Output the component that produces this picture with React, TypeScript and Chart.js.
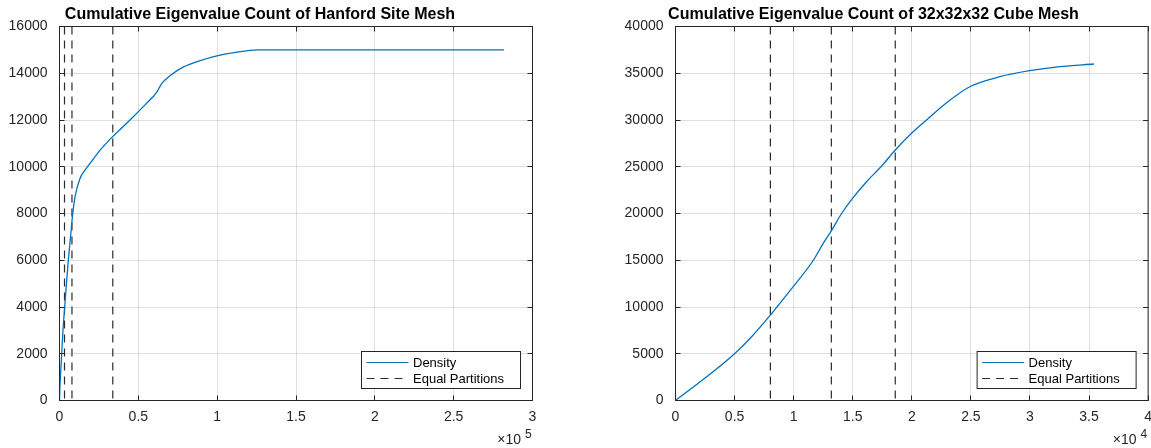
import React, { useEffect, useRef } from "react";
import { Chart, registerables } from "chart.js";

Chart.register(...registerables);

const FONT = '"Liberation Sans", Arial, Helvetica, sans-serif';
const BLUE = "#0072BD";
const AXIS = "#262626";
const GRID = "rgba(38,38,38,0.15)";
const DASH_COLOR = "#2b2b2b";

// ---------- Left panel: Hanford Site Mesh ----------
const hanfordTitle = "Cumulative Eigenvalue Count of Hanford Site Mesh";
const hanfordX = [0, 150, 700, 1400, 2200, 3300, 4400, 5600, 7000, 8400, 9850, 13000, 16200, 20000, 25000, 33900, 44700, 55000, 61650, 64820, 70200, 78650, 89260, 99870, 112580, 125290, 200000, 282000];
const hanfordY = [0, 400, 1150, 2000, 3000, 4000, 5000, 6000, 7000, 8000, 8714, 9500, 9857, 10200, 10650, 11300, 12000, 12700, 13180, 13560, 13900, 14270, 14543, 14743, 14900, 15000, 15000, 15000];
const hanfordPartitions = [3170, 7900, 33800];
const hanfordXTicks = [0, 50000, 100000, 150000, 200000, 250000, 300000];
const hanfordXLabels = ["0", "0.5", "1", "1.5", "2", "2.5", "3"];
const hanfordYTicks = [0, 2000, 4000, 6000, 8000, 10000, 12000, 14000, 16000];
const hanfordYLabels = ["0", "2000", "4000", "6000", "8000", "10000", "12000", "14000", "16000"];
const hanfordExponent = "5";

// ---------- Right panel: 32x32x32 Cube Mesh ----------
const cubeTitle = "Cumulative Eigenvalue Count of 32x32x32 Cube Mesh";
const cubeX = [0, 2500, 5000, 6500, 8034, 8584, 9963, 11670, 12500, 13192, 14055, 15000, 16170, 17430, 18605, 20000, 21244, 23000, 24905, 27443, 29980, 32517, 35418];
const cubeY = [0, 2400, 5000, 6900, 9144, 10000, 12171, 15000, 16800, 18150, 20000, 21650, 23400, 25050, 26791, 28600, 30000, 31900, 33560, 34630, 35272, 35700, 35989];
const cubePartitions = [8030, 13190, 18600];
const cubeXTicks = [0, 5000, 10000, 15000, 20000, 25000, 30000, 35000, 40000];
const cubeXLabels = ["0", "0.5", "1", "1.5", "2", "2.5", "3", "3.5", "4"];
const cubeYTicks = [0, 5000, 10000, 15000, 20000, 25000, 30000, 35000, 40000];
const cubeYLabels = ["0", "5000", "10000", "15000", "20000", "25000", "30000", "35000", "40000"];
const cubeExponent = "4";

const legendLabels = ["Density", "Equal Partitions"];

type Panel = {
  title: string;
  titleX: number; // page coordinate of title centre
  xs: number[];
  ys: number[];
  parts: number[];
  xTicks: number[];
  xLabels: string[];
  yTicks: number[];
  yLabels: string[];
  exponent: string;
  canvasLeft: number;
  canvasWidth: number;
  axisLeft: number;
  axisRight: number;
};

const AREA_TOP = 26.5;
const AREA_BOTTOM = 400.5;
const HEIGHT = 448;

const panels: Panel[] = [
  {
    title: hanfordTitle,
    titleX: 260,
    xs: hanfordX,
    ys: hanfordY,
    parts: hanfordPartitions,
    xTicks: hanfordXTicks,
    xLabels: hanfordXLabels,
    yTicks: hanfordYTicks,
    yLabels: hanfordYLabels,
    exponent: hanfordExponent,
    canvasLeft: 0,
    canvasWidth: 576,
    axisLeft: 59.5,
    axisRight: 532.5,
  },
  {
    title: cubeTitle,
    titleX: 873.5,
    xs: cubeX,
    ys: cubeY,
    parts: cubePartitions,
    xTicks: cubeXTicks,
    xLabels: cubeXLabels,
    yTicks: cubeYTicks,
    yLabels: cubeYLabels,
    exponent: cubeExponent,
    canvasLeft: 576,
    canvasWidth: 584,
    axisLeft: 675.5,
    axisRight: 1148.5,
  },
];

function buildChart(canvas: HTMLCanvasElement, p: Panel): Chart {
  const xMin = p.xTicks[0];
  const xMax = p.xTicks[p.xTicks.length - 1];
  const yMin = p.yTicks[0];
  const yMax = p.yTicks[p.yTicks.length - 1];

  const density = p.xs.map((x, i) => ({ x, y: p.ys[i] }));
  const partitionSets = p.parts.map((x) => ({
    label: legendLabels[1],
    data: [
      { x, y: yMax },
      { x, y: yMin },
    ],
    borderColor: DASH_COLOR,
    borderWidth: 1.2,
    borderDash: [8, 6],
    pointRadius: 0,
    tension: 0,
    fill: false,
  }));

  const matlabPlugin = {
    id: "matlabDecor",
    afterDatasetsDraw(chart: any) {
      const { ctx, chartArea, scales } = chart;
      const { left, right, top, bottom } = chartArea;
      ctx.save();
      ctx.strokeStyle = AXIS;
      ctx.lineWidth = 1;
      ctx.setLineDash([]);
      const TL = 5;
      ctx.beginPath();
      p.xTicks.forEach((v) => {
        const px = Math.floor(scales.x.getPixelForValue(v)) + 0.5;
        ctx.moveTo(px, bottom);
        ctx.lineTo(px, bottom - TL);
        ctx.moveTo(px, top);
        ctx.lineTo(px, top + TL);
      });
      p.yTicks.forEach((v) => {
        const py = Math.floor(scales.y.getPixelForValue(v)) + 0.5;
        ctx.moveTo(left, py);
        ctx.lineTo(left + TL, py);
        ctx.moveTo(right, py);
        ctx.lineTo(right - TL, py);
      });
      ctx.stroke();
      ctx.strokeRect(left, top, right - left, bottom - top);
      ctx.restore();
    },
    afterDraw(chart: any) {
      const { ctx, chartArea } = chart;
      const { right } = chartArea;
      ctx.save();
      // legend
      const lw = 159;
      const lh = 37;
      const lr = right - 12;
      const ll = lr - lw;
      const lt = 351.5;
      ctx.fillStyle = "#ffffff";
      ctx.fillRect(ll, lt, lw, lh);
      ctx.strokeStyle = AXIS;
      ctx.lineWidth = 1;
      ctx.strokeRect(ll, lt, lw, lh);

      const row1 = lt + 11;
      const row2 = lt + 27;
      ctx.beginPath();
      ctx.strokeStyle = BLUE;
      ctx.lineWidth = 1.2;
      ctx.moveTo(ll + 5, row1);
      ctx.lineTo(ll + 47, row1);
      ctx.stroke();
      ctx.beginPath();
      ctx.strokeStyle = DASH_COLOR;
      ctx.setLineDash([8, 6]);
      ctx.moveTo(ll + 5, row2);
      ctx.lineTo(ll + 47, row2);
      ctx.stroke();
      ctx.setLineDash([]);

      ctx.fillStyle = "#000000";
      ctx.font = `13px ${FONT}`;
      ctx.textAlign = "left";
      ctx.textBaseline = "middle";
      ctx.fillText(legendLabels[0], ll + 51.5, row1 + 0.5);
      ctx.fillText(legendLabels[1], ll + 51.5, row2 + 0.5);

      // title
      ctx.font = `bold 16px ${FONT}`;
      ctx.textAlign = "center";
      ctx.textBaseline = "alphabetic";
      ctx.fillStyle = "#000000";
      ctx.fillText(p.title, p.titleX - p.canvasLeft, 19);

      // exponent label
      ctx.fillStyle = AXIS;
      ctx.font = `14px ${FONT}`;
      ctx.textAlign = "right";
      ctx.fillText("\u00d710", right - 11.5, 444);
      ctx.font = `12px ${FONT}`;
      ctx.textAlign = "left";
      ctx.fillText(p.exponent, right - 7.5, 437.5);
      ctx.restore();
    },
  };

  const yWidth = p.axisLeft - p.canvasLeft;
  const rightPad = p.canvasLeft + p.canvasWidth - p.axisRight;

  return new Chart(canvas, {
    type: "line",
    data: {
      datasets: [
        {
          label: legendLabels[0],
          data: density,
          borderColor: BLUE,
          borderWidth: 1.3,
          pointRadius: 0,
          cubicInterpolationMode: "monotone",
          fill: false,
        } as any,
        ...partitionSets,
      ],
    },
    options: {
      responsive: false,
      animation: false,
      devicePixelRatio: 1,
      layout: { padding: { top: AREA_TOP, right: rightPad, left: 0, bottom: 0 } },
      plugins: {
        legend: { display: false },
        tooltip: { enabled: false },
        title: { display: false },
      },
      scales: {
        x: {
          type: "linear",
          min: xMin,
          max: xMax,
          afterBuildTicks: (s: any) => {
            s.ticks = p.xTicks.map((v) => ({ value: v }));
          },
          afterFit: (s: any) => {
            s.height = HEIGHT - AREA_BOTTOM;
          },
          grid: { color: GRID, lineWidth: 1, drawTicks: false },
          border: { display: false },
          ticks: {
            padding: 8,
            color: AXIS,
            font: { family: FONT, size: 14 },
            maxRotation: 0,
            autoSkip: false,
            callback: (v: any) => {
              const i = p.xTicks.indexOf(Number(v));
              return i >= 0 ? p.xLabels[i] : "";
            },
          },
        },
        y: {
          type: "linear",
          min: yMin,
          max: yMax,
          afterBuildTicks: (s: any) => {
            s.ticks = p.yTicks.map((v) => ({ value: v }));
          },
          afterFit: (s: any) => {
            s.width = yWidth;
          },
          grid: { color: GRID, lineWidth: 1, drawTicks: false },
          border: { display: false },
          ticks: {
            padding: 12,
            color: AXIS,
            font: { family: FONT, size: 14 },
            autoSkip: false,
            callback: (v: any) => {
              const i = p.yTicks.indexOf(Number(v));
              return i >= 0 ? p.yLabels[i] : "";
            },
          },
        },
      },
    } as any,
    plugins: [matlabPlugin],
  });
}

export default function App() {
  const leftRef = useRef<HTMLCanvasElement | null>(null);
  const rightRef = useRef<HTMLCanvasElement | null>(null);

  useEffect(() => {
    const charts: Chart[] = [];
    if (leftRef.current) charts.push(buildChart(leftRef.current, panels[0]));
    if (rightRef.current) charts.push(buildChart(rightRef.current, panels[1]));
    return () => charts.forEach((c) => c.destroy());
  }, []);

  return (
    <div
      style={{
        position: "absolute",
        left: 0,
        top: 0,
        width: 1151,
        height: HEIGHT,
        overflow: "hidden",
        background: "#ffffff",
      }}
    >
      <canvas
        ref={leftRef}
        width={panels[0].canvasWidth}
        height={HEIGHT}
        style={{
          position: "absolute",
          left: panels[0].canvasLeft,
          top: 0,
          width: panels[0].canvasWidth,
          height: HEIGHT,
        }}
      />
      <canvas
        ref={rightRef}
        width={panels[1].canvasWidth}
        height={HEIGHT}
        style={{
          position: "absolute",
          left: panels[1].canvasLeft,
          top: 0,
          width: panels[1].canvasWidth,
          height: HEIGHT,
        }}
      />
    </div>
  );
}
